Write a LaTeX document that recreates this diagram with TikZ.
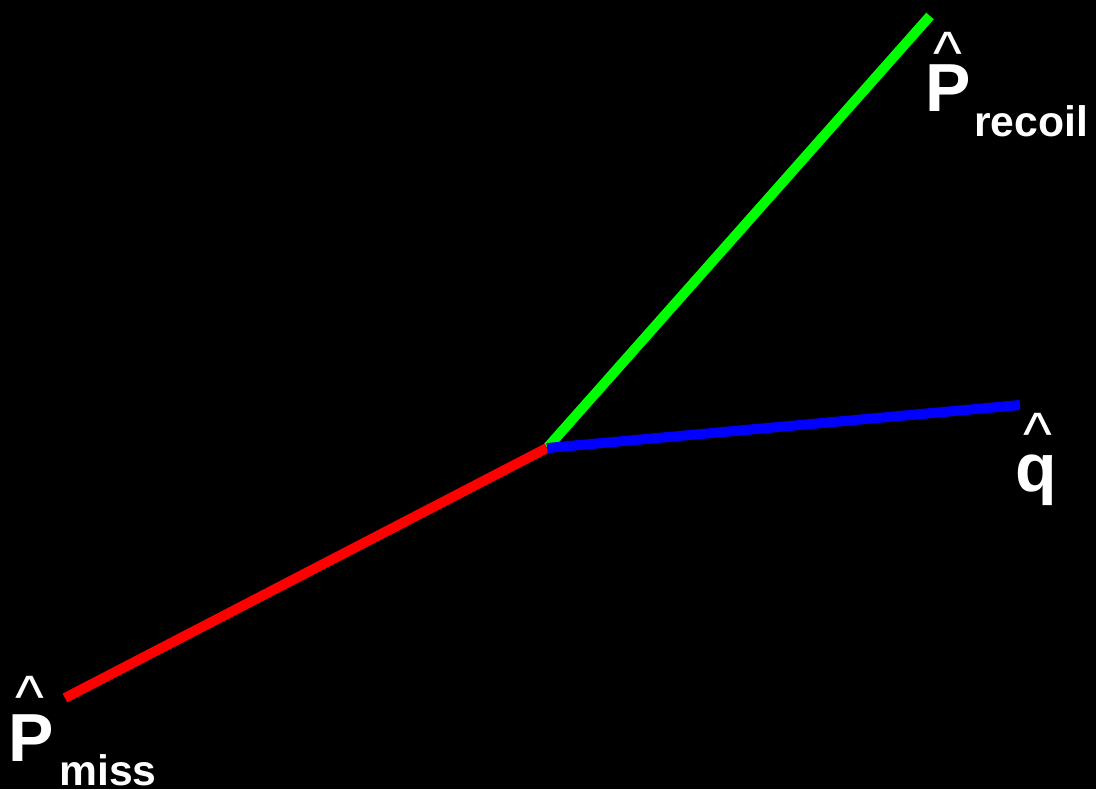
\documentclass[tikz,border=0pt]{standalone}
\usepackage{fontspec}
\setmainfont{Liberation Sans}
\begin{document}
\begin{tikzpicture}[x=0.75pt,y=-0.75pt,
  vec/.style={line width=7.5pt},
  bigsym/.style={text=white,inner sep=0pt,anchor=base west,font=\fontsize{51}{52}\selectfont\bfseries},
  subsym/.style={text=white,inner sep=0pt,anchor=base west,font=\fontsize{32}{34}\selectfont\bfseries},
  hatsym/.style={text=white,inner sep=0pt,anchor=center,text height=12pt,text depth=0pt,font=\fontsize{46}{46}\selectfont}]
\fill[black] (0,0) rectangle (1096,789);
\useasboundingbox (0,0) rectangle (1096,789);
\definecolor{vgreen}{RGB}{0,255,0}
\definecolor{vred}{RGB}{255,0,0}
\definecolor{vblue}{RGB}{0,0,255}
\coordinate (O) at (547,448);
\coordinate (Gend) at (930,16);
\coordinate (Rend) at (65,698);
\coordinate (Bend) at (1020,405);
\draw[vec,vgreen] (O) -- (Gend);
\draw[vec,vred] (O) -- (Rend);
\draw[vec,vblue] (O) -- (Bend);
% labels
\node[bigsym] (Pr) at (925,111) {P};
\node[hatsym] (Prh) at (948,66) {\textasciicircum};
\node[subsym] (rec) at (974,136) {recoil};
\node[bigsym] (q) at (1015,491) {q};
\node[hatsym] (qh) at (1038,447) {\textasciicircum};
\node[bigsym] (Pm) at (8,761) {P};
\node[hatsym] (Pmh) at (30,710) {\textasciicircum};
\node[subsym] (miss) at (59,785) {miss};
\end{tikzpicture}
\end{document}
